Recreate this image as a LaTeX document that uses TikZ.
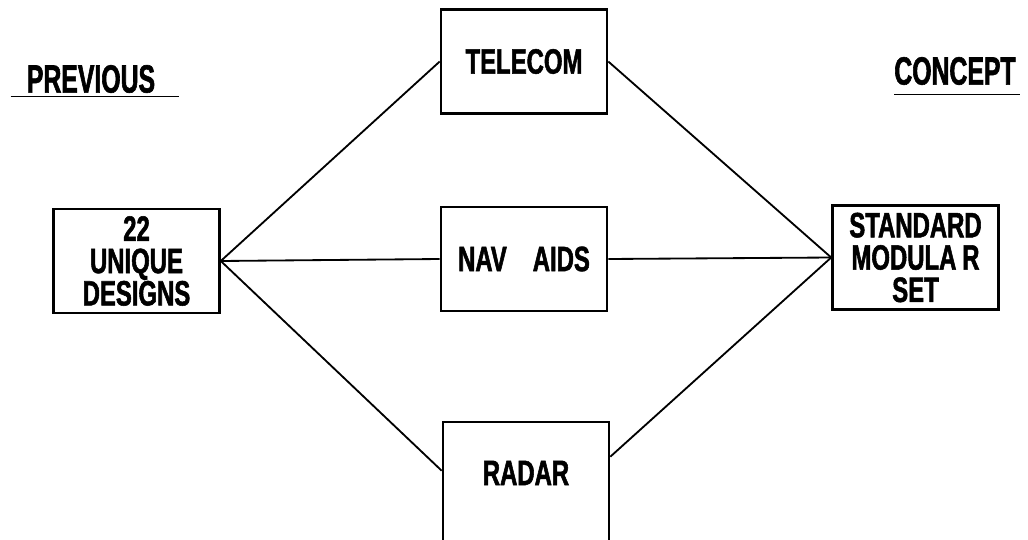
\documentclass[tikz,border=0pt]{standalone}
\usepackage{fontspec}
\setmainfont{Liberation Sans}[FakeStretch=0.63, FakeBold=1.5]
\newfontfamily\boxfont{Liberation Sans}[FakeStretch=0.68, FakeBold=1.5]
\usetikzlibrary{positioning,calc}

\begin{document}
\begin{tikzpicture}[x=0.025cm, y=-0.025cm,
  unit/.style={draw, line width=1.8pt, minimum width=4.15cm, minimum height=2.6cm, inner sep=0pt, align=center, font=\boxfont\bfseries\fontsize{25}{23}\selectfont},
  heading/.style={inner sep=0pt, font=\bfseries\fontsize{28}{30}\selectfont},
  link/.style={line width=1.3pt}]
  \useasboundingbox (0,0) rectangle (1028,540);
  \clip (0,0) rectangle (1028,540);
  % headings
  \node[heading] (previous) at (91,79) {PREVIOUS};
  \node[heading] (concept) at (955,71) {CONCEPT};
  \draw[link] ([shift={(-0.4cm,-0.1cm)}]previous.base west) -- ([shift={(0.6cm,-0.1cm)}]previous.base east);
  \draw[link] ([yshift=-0.25cm]concept.base west) -- ([shift={(0.1cm,-0.25cm)}]concept.base east);
  % boxes
  \node[unit] (designs) at (136.5,261) {22\\UNIQUE\\DESIGNS};
  \node[unit] (telecom) at (524,61.5) {TELECOM};
  \node[unit] (navaids) at (524,259) {NAV\hspace{0.65cm}AIDS};
  \node[unit, text height=1.575cm, text depth=2cm, anchor=base] (radar) at (526,485) {RADAR};
  \node[unit] (standard) at (915.5,257.5) {STANDARD\\MODULA\,R\\SET};
  % links
  \draw[link] (designs.east) -- (telecom.west);
  \draw[link] (designs.east) -- (navaids.west);
  \draw[link] (designs.east) -- ([yshift=-1.25cm]radar.north west);
  \draw[link] (telecom.east) -- (standard.west);
  \draw[link] (navaids.east) -- (standard.west);
  \draw[link] ([yshift=-0.9cm]radar.north east) -- (standard.west);
\end{tikzpicture}
\end{document}
